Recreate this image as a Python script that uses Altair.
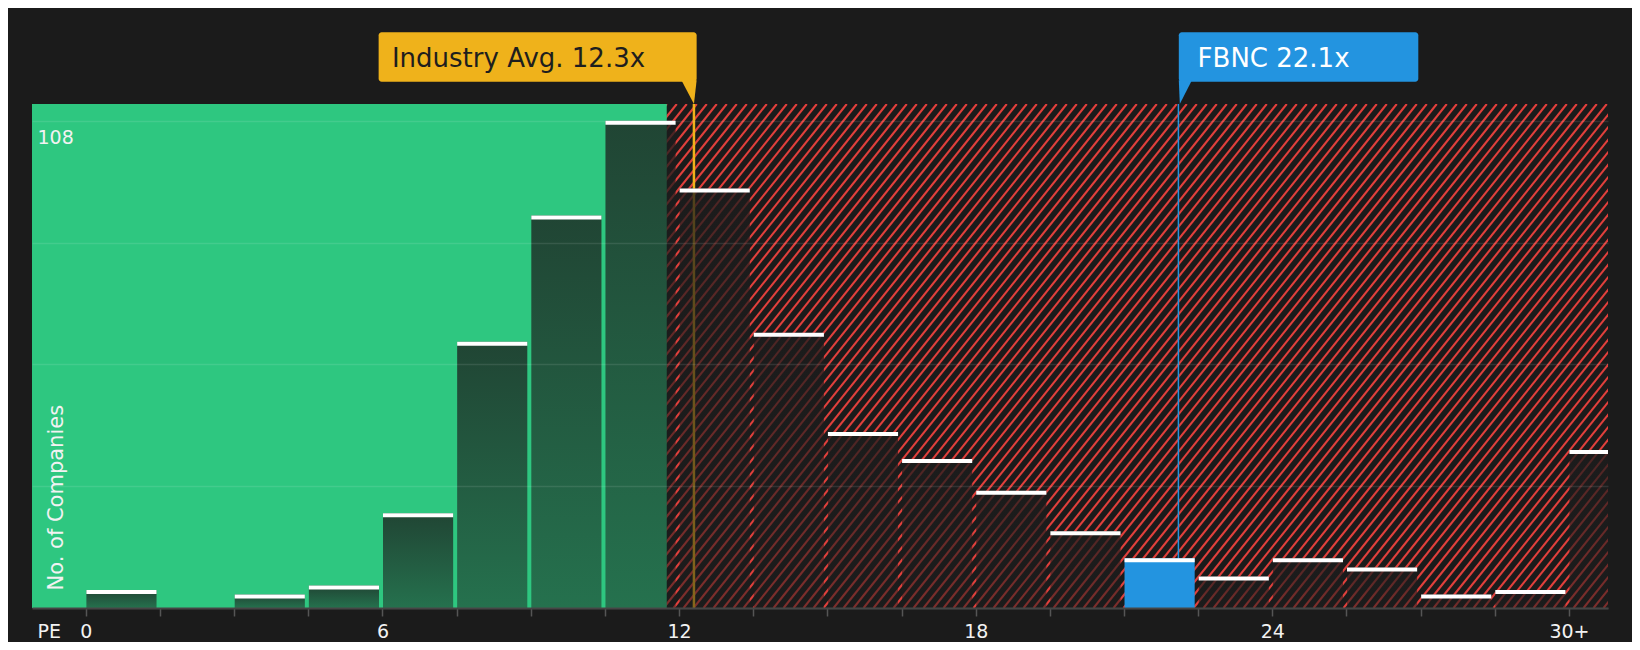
import math
import altair as alt
import pandas as pd

# ---------------- data ----------------
bin_start = [0, 1.5, 3, 4.5, 6, 7.5, 9, 10.5, 12, 13.5, 15, 16.5, 18, 19.5,
             21, 22.5, 24, 25.5, 27, 28.5, 30]
bin_width = 1.5
counts = [4, 0, 3, 5, 21, 59, 87, 108, 93, 61, 39, 33, 26, 17,
          11, 7, 11, 9, 3, 4, 35]
x_label_values = [0, 6, 12, 18, 24, 30]
y_grid_values = [0, 27, 54, 81, 108]
industry_avg = 12.3
company_name = "FBNC"
company_pe = 22.1
good_zone_end = 11.75
x_domain = [-1.09, 30.79]
y_domain = [0, 111.7]

# ---------------- style ----------------
W, H = 1576, 504
BG = "#1b1b1b"
GREEN = "#2ec780"
RED = "#e0403c"
YELLOW = "#efb21b"
BLUE = "#2394e0"
TXT = "#f2f2f2"
FONT = "DejaVu Sans"
HATCH_SLOPE = 1.25      # pixel rise per pixel run
HATCH_GAP_PX = 10       # horizontal distance between stripes

bars = pd.DataFrame({
    "start": bin_start,
    "end": [s + bin_width for s in bin_start],
    "count": counts,
})
bars["zero"] = 0
marks = pd.DataFrame({
    "avg": [industry_avg],
    "pe": [company_pe],
    "avg_label": [f"Industry Avg. {industry_avg}x"],
    "pe_label": [f"{company_name} {company_pe}x"],
    "gz0": [x_domain[0]],
    "gz1": [good_zone_end],
})

xscale = alt.Scale(domain=x_domain, nice=False, zero=False)
yscale = alt.Scale(domain=y_domain, nice=False, zero=False)

last = x_label_values[-1]
x_axis = alt.Axis(
    values=bin_start,
    labelExpr=(f"indexof({x_label_values}, datum.value) >= 0 ? "
               f"(datum.value == {last} ? '{last}+' : datum.label) : ''"),
    grid=False, domain=True, domainColor="#454545", domainWidth=2,
    ticks=True, tickColor="#555555", tickSize=8, tickWidth=1.5,
    labelBaseline="alphabetic", labelPadding=21, labelFontSize=19,
    labelColor=TXT, labelFont=FONT, labelFlush=False, labelOverlap=False,
    labelAlign="center",
    title="PE", titleX=5, titleY=29, titleAlign="left", titleBaseline="alphabetic",
    titleFontSize=19, titleFontWeight="normal", titleColor=TXT, titleFont=FONT,
    zindex=1,
)
ytop = max(y_grid_values)
y_axis = alt.Axis(
    values=y_grid_values,
    labelExpr=f"datum.value == {ytop} ? '{ytop}' : ''",
    domain=False, ticks=False, tickSize=0,
    grid=True, gridColor="#ffffff", gridOpacity=0.1, gridWidth=1.5,
    labelAlign="left", labelBaseline="alphabetic", labelPadding=-5, labelOffset=23,
    labelFontSize=19, labelColor=TXT, labelFont=FONT, labelOverlap=False,
    title="No. of Companies", titleX=30, titleY=486, titleAngle=270,
    titleAlign="left", titleBaseline="alphabetic", titleFontSize=21,
    titleFontWeight="normal", titleColor=TXT, titleFont=FONT,
    zindex=1,
)

# hatch geometry (decoration stripes)
px_per_x = W / (x_domain[1] - x_domain[0])
dx = (H / HATCH_SLOPE) / px_per_x
step = HATCH_GAP_PX / px_per_x
hx0 = good_zone_end - dx - step
n_lines = int(math.ceil((x_domain[1] - hx0) / step)) + 2

hatch = alt.Chart(alt.sequence(0, n_lines, as_="i")).transform_calculate(
    hx=f"{hx0} + datum.i * {step}",
    hx2=f"{hx0} + datum.i * {step} + {dx}",
    hy0="0",
    hy1=str(y_domain[1]),
).mark_rule(clip=True, color=RED, strokeWidth=2.1).encode(
    x=alt.X("hx:Q", scale=xscale, axis=x_axis),
    x2="hx2:Q",
    y=alt.Y("hy0:Q", scale=yscale, axis=y_axis),
    y2="hy1:Q",
)

base_m = alt.Chart(marks)

green = base_m.mark_rect(color=GREEN).encode(
    x=alt.X("gz0:Q", scale=xscale, axis=x_axis),
    x2="gz1:Q",
    y=alt.value(0), y2=alt.value(H),
)

avg_line = base_m.mark_rule(color=YELLOW, strokeWidth=2.5).encode(
    x=alt.X("avg:Q", scale=xscale, axis=x_axis),
    y=alt.value(0), y2=alt.value(H),
)
pe_line = base_m.mark_rule(color=BLUE, strokeWidth=1.5).encode(
    x=alt.X("pe:Q", scale=xscale, axis=x_axis),
    y=alt.value(0), y2=alt.value(H),
)

grad = alt.LinearGradient(
    gradient="linear", x1=0, y1=0, x2=0, y2=1,
    stops=[alt.GradientStop(offset=0, color="rgba(28,28,28,0.76)"),
           alt.GradientStop(offset=1, color="rgba(28,28,28,0.5)")],
)
base_b = alt.Chart(bars)
pe_test = f"datum.start <= {company_pe} && datum.end > {company_pe}"

dark_bars = base_b.transform_filter(f"!({pe_test})").mark_rect(
    color=grad, clip=True, xOffset=0.5, x2Offset=-3.5
).encode(
    x=alt.X("start:Q", scale=xscale, axis=x_axis),
    x2="end:Q",
    y=alt.Y("count:Q", scale=yscale, axis=y_axis),
    y2="zero:Q",
)
blue_bar = base_b.transform_filter(pe_test).mark_rect(
    color=BLUE, clip=True, xOffset=0.5, x2Offset=-3.5
).encode(
    x=alt.X("start:Q", scale=xscale, axis=x_axis),
    x2="end:Q",
    y=alt.Y("count:Q", scale=yscale, axis=y_axis),
    y2="zero:Q",
)
caps = base_b.transform_filter("datum.count > 0").mark_rect(
    color="#ffffff", clip=True, xOffset=0.5, x2Offset=-3.5, y2Offset=4
).encode(
    x=alt.X("start:Q", scale=xscale, axis=x_axis),
    x2="end:Q",
    y=alt.Y("count:Q", scale=yscale, axis=y_axis),
    y2="count:Q",
)

avg_box = base_m.mark_rect(color=YELLOW, cornerRadius=3, xOffset=-315.3, x2Offset=2.7).encode(
    x=alt.X("avg:Q", scale=xscale, axis=x_axis), x2="avg:Q",
    y=alt.value(-71.7), y2=alt.value(-22.3),
)
avg_tail = base_m.mark_point(
    shape="M -0.5 -0.95 L 0.108 -0.95 L 0 0 Z", size=2500,
    filled=True, opacity=1, strokeWidth=0, color=YELLOW,
).encode(x=alt.X("avg:Q", scale=xscale, axis=x_axis), y=alt.value(0))
avg_text = base_m.mark_text(
    align="left", baseline="alphabetic", dx=-302, fontSize=26, font=FONT, color="#1e1e1e"
).encode(
    x=alt.X("avg:Q", scale=xscale, axis=x_axis), y=alt.value(-37.3), text="avg_label:N"
)

pe_box = base_m.mark_rect(color=BLUE, cornerRadius=3, xOffset=0.4, x2Offset=239.9).encode(
    x=alt.X("pe:Q", scale=xscale, axis=x_axis), x2="pe:Q",
    y=alt.value(-71.7), y2=alt.value(-22.3),
)
pe_tail = base_m.mark_point(
    shape="M 0.016 -0.95 L 0.54 -0.95 L 0.056 0 Z", size=2500,
    filled=True, opacity=1, strokeWidth=0, color=BLUE,
).encode(x=alt.X("pe:Q", scale=xscale, axis=x_axis), y=alt.value(0))
pe_text = base_m.mark_text(
    align="left", baseline="alphabetic", dx=19.2, fontSize=26, font=FONT, color="#ffffff"
).encode(
    x=alt.X("pe:Q", scale=xscale, axis=x_axis), y=alt.value(-37.3), text="pe_label:N"
)

chart = alt.layer(
    hatch, green, avg_line, pe_line, dark_bars, blue_bar, caps,
    avg_box, avg_tail, avg_text, pe_box, pe_tail, pe_text,
).properties(
    width=W, height=H, background=BG,
    padding={"left": 24, "top": 96, "right": 24, "bottom": 34},
    autosize=alt.AutoSizeParams(type="none"),
).configure(font=FONT).configure_view(stroke="transparent", strokeWidth=0)

chart.save("out.html", embed_options={"renderer": "svg", "actions": False})
